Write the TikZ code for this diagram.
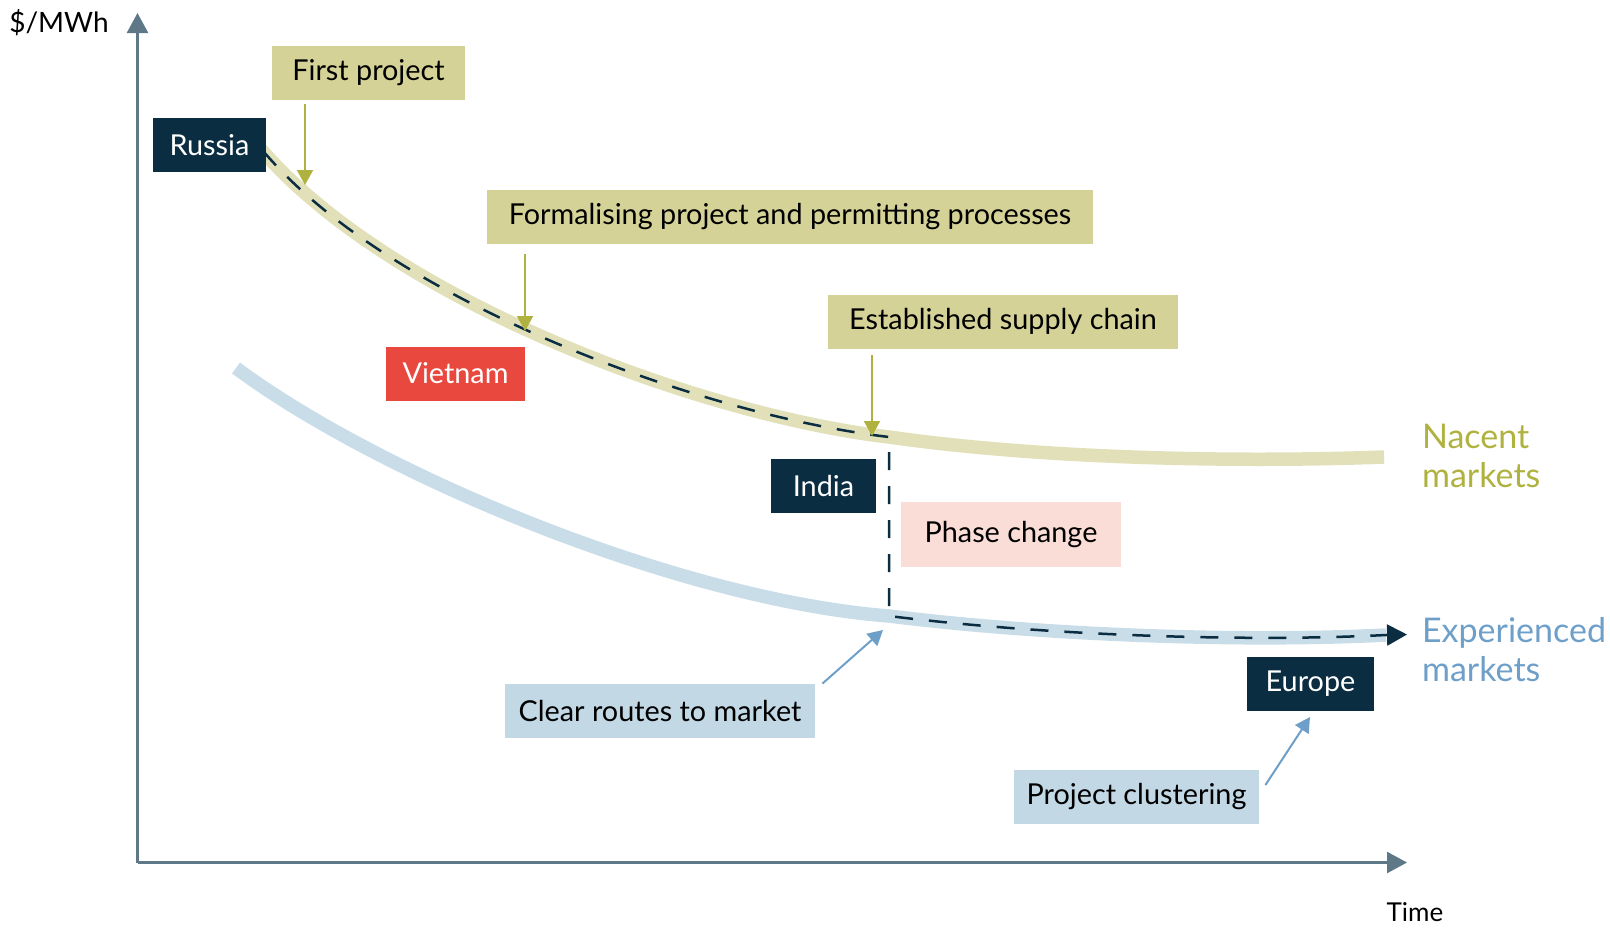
\documentclass[tikz,border=0pt]{standalone}
\usepackage{fontspec}
\setmainfont{Lato}
\usetikzlibrary{arrows.meta}
\definecolor{navy}{RGB}{11,45,66}
\definecolor{olivebox}{RGB}{212,210,150}
\definecolor{oliveband}{RGB}{225,224,185}
\definecolor{olivetxt}{RGB}{176,178,64}
\definecolor{bluebox}{RGB}{194,216,229}
\definecolor{blueband}{RGB}{201,221,232}
\definecolor{bluetxt}{RGB}{110,159,201}
\definecolor{vred}{RGB}{232,72,61}
\definecolor{pinkbox}{RGB}{250,221,214}
\definecolor{axisgray}{RGB}{94,120,136}
\tikzset{
  lbl/.style={inner sep=0pt,minimum height=27pt,font=\fontsize{14.4}{16}\selectfont},
  olivetag/.style={lbl,fill=olivebox},
  bluetag/.style={lbl,fill=bluebox},
  country/.style={lbl,fill=navy,text=white},
  band/.style={line width=6.75pt},
  olivearrow/.style={olivetxt,line width=1pt,-{Triangle[length=7.5pt,width=8pt]}},
  bluearrow/.style={bluetxt,line width=1pt,-{Triangle[length=7.5pt,width=8pt]}},
  market/.style={anchor=north west,align=left,font=\fontsize{17}{19.5}\selectfont}
}
\begin{document}
\begin{tikzpicture}[x=0.5pt,y=-0.5pt]
\pgfmathsetmacro{\xp}{889}
\useasboundingbox (0,0) rectangle (1610,927);
% axes
\draw[axisgray,line width=1.25pt,-{Triangle[length=10pt,width=10.5pt]}] (137.5,862.5)--(137.5,13);
\draw[axisgray,line width=1.25pt,-{Triangle[length=10pt,width=10.5pt]}] (137.5,862.5)--(1407,862.5);
\node[font=\fontsize{14}{16}\selectfont] (cost) at (59,23) {\$/MWh};
\node[font=\fontsize{13}{15}\selectfont] (time) at (1415,912) {Time};
% the two cost curves
\draw[band,oliveband] (259,147) .. controls (390,300) and (700,415) .. (\xp,437)
  .. controls (1050,460) and (1250,462) .. (1384,457);
\draw[band,blueband] (236,368) .. controls (380,475) and (680,600) .. (\xp,616)
  .. controls (1050,636) and (1250,642) .. (1386,635);
\draw[navy,line width=1.25pt,dash pattern=on 9pt off 8pt,-{Triangle[length=10pt,width=10.5pt]}]
  (264,152) .. controls (390,300) and (700,415) .. (\xp,437) -- (\xp,616)
  .. controls (1050,636) and (1250,642) .. (1386,635) -- (1407,634.5);
\coordinate (tfirst) at (305,185);
\coordinate (tformal) at (525,331);
\coordinate (tsupply) at (872,436);
\coordinate (troute) at (883,630);
\coordinate (tcluster) at (1310,717);
% labels
\node[olivetag,minimum width=96.5pt] (first) at (368.5,73) {First project};
\node[country,minimum width=56.5pt] (russia) at (209.5,145) {Russia};
\node[olivetag,minimum width=303pt] (formal) at (790,217) {Formalising project and permitting processes};
\node[olivetag,minimum width=175pt] (supply) at (1003,321.5) {Established supply chain};
\node[lbl,fill=vred,text=white,minimum width=69.5pt] (vietnam) at (455.5,373.5) {Vietnam};
\node[country,minimum width=52.5pt] (india) at (823.5,485.5) {India};
\node[lbl,fill=pinkbox,minimum width=110pt,minimum height=32.5pt] (phase) at (1011,534.5) {Phase change};
\node[bluetag,minimum width=155pt] (route) at (660,711) {Clear routes to market};
\node[bluetag,minimum width=122.5pt] (cluster) at (1136.5,797) {Project clustering};
\node[country,minimum width=63.5pt] (europe) at (1310.5,684) {Europe};
\node[market,text=olivetxt] (nacent) at (1415,417) {Nacent\\markets};
\node[market,text=bluetxt] (experienced) at (1415,610) {Experienced\\markets};
% pointers onto the curves
\draw[olivearrow,shorten <=2pt] (tfirst |- first.south)--(tfirst);
\draw[olivearrow,shorten <=5pt] (tformal |- formal.south)--(tformal);
\draw[olivearrow,shorten <=3pt] (tsupply |- supply.south)--(tsupply);
\draw[bluearrow] ([xshift=3.5pt]route.north east)--(troute);
\draw[bluearrow] ([shift={(3pt,6pt)}]cluster.east)--(tcluster);
\end{tikzpicture}
\end{document}
